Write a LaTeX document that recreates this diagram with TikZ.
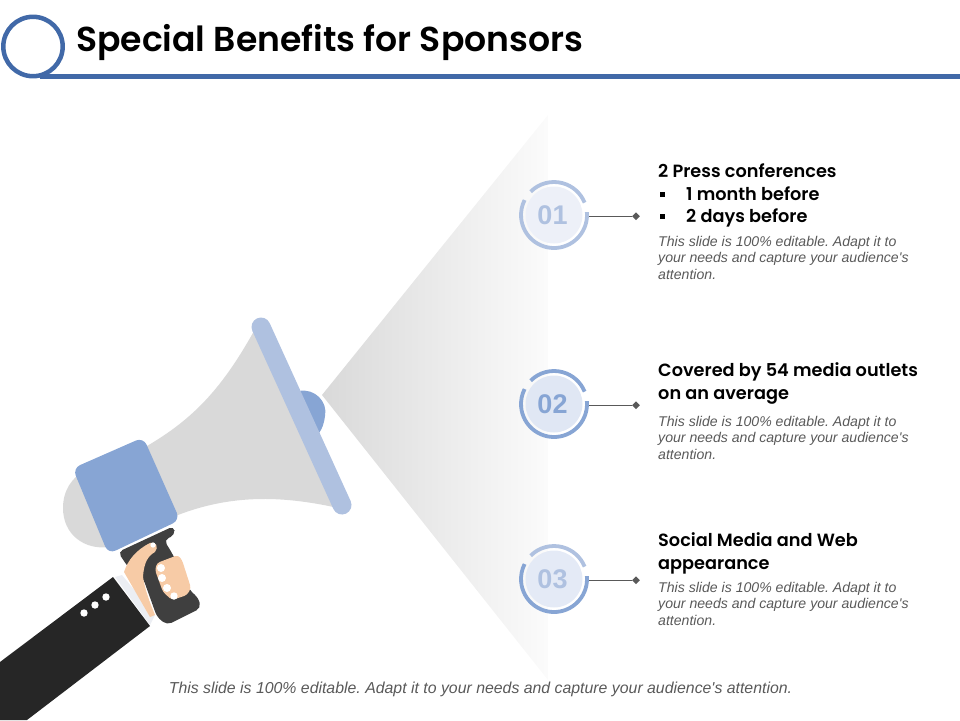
\documentclass[tikz,border=0pt]{standalone}
\usepackage{fontspec}
\setmainfont{Liberation Sans}[Ligatures=TeXOff]
\newfontfamily\headfont{Poppins}[UprightFont=* SemiBold,BoldFont=* SemiBold]
\definecolor{barblue}{HTML}{4169A8}
\definecolor{hornblue}{HTML}{87A5D4}
\definecolor{rimblue}{HTML}{AFC1E0}
\definecolor{fillone}{HTML}{EDF0F8}
\definecolor{filltwo}{HTML}{E0E7F4}
\definecolor{fillthree}{HTML}{E4EAF6}
\definecolor{horngray}{HTML}{D9D9D9}
\definecolor{conemid}{HTML}{EDEDED}
\definecolor{skin}{HTML}{F7CBA6}
\definecolor{gripdark}{HTML}{3F3F3F}
\definecolor{sleeve}{HTML}{262626}
\definecolor{cuff}{HTML}{ECEEF3}
\definecolor{notetext}{HTML}{595959}
\usetikzlibrary{shapes.geometric}
\tikzset{
  x=1pt,y=-1pt,
  titletext/.style={anchor=base west,inner sep=0pt,font=\headfont\fontsize{34.6}{34.6}\selectfont,text=black},
  headtext/.style={anchor=base west,inner sep=0pt,font=\headfont\fontsize{17.7}{17.7}\selectfont,text=black},
  notetxt/.style={anchor=north west,inner sep=0pt,align=left,text=notetext,font=\frenchspacing\itshape\fontsize{14.1}{16.5}\selectfont},
  numtext/.style={anchor=center,inner sep=0pt,font=\bfseries\fontsize{27}{27}\selectfont},
  leader/.style={draw=notetext,line width=1pt},
  tipdot/.style={diamond,fill=notetext,minimum size=8pt,inner sep=0pt},
}
\newcommand{\notebody}{This slide is 100\% editable. Adapt it to\\your needs and capture your audience's\\attention.}
\begin{document}
\begin{tikzpicture}
\useasboundingbox (0,0) rectangle (960,720);
% header
\fill[barblue] (40,74) rectangle (960,78.7);
\draw[barblue,line width=4.5pt,fill=white] (33,46.5) circle (29.7);
\node[titletext] (title) at (76,51) {Special Benefits for Sponsors};
% light cone
\begin{scope}
\clip (322,395) -- (548,115) -- (548,680) -- cycle;
\shade[left color=horngray,middle color=conemid,right color=black!1.5] (322,100) rectangle (548,690);
\end{scope}
% megaphone
\fill[horngray] (254,331) .. controls (220,392) and (190,422) .. (140,450) -- (85,470)
  .. controls (72,478) and (63,490) .. (63,508) .. controls (63,535) and (85,550) .. (108,547) -- (178,515)
  .. controls (230,495) and (280,495) .. (338,508) -- cycle;
\fill[hornblue] (299,391) .. controls (315,388) and (328,402) .. (325,416) .. controls (324,424) and (322,429) .. (319,433) -- cycle;
\draw[rimblue,line width=19pt,line cap=round] (261,327) -- (342,505);
\fill[gripdark,rounded corners=5pt] (118,552) -- (174,526) -- (175,535) -- (164,540) -- (172,553) -- (191,592) -- (198,597) -- (201,608) -- (167,625) -- (157,617) -- (143,578) -- (128,567) -- cycle;
\fill[hornblue,rounded corners=8pt] (72.7,468.3) -- (143.3,437.3) -- (180,520) -- (108.3,554) -- cycle;
\fill[cuff] (115,577) -- (122,575) -- (155,615) -- (150,625) -- cycle;
\fill[skin] (124,572) .. controls (128,560) and (136,550) .. (150,543) .. controls (156,541) and (159,547) .. (155,552) .. controls (148,556) and (144,562) .. (143,577) .. controls (145,590) and (150,603) .. (155,615) -- (150,617) -- cycle;
\fill[skin,rounded corners=3pt] (157,563) -- (178,555) -- (182,560) -- (191,588) -- (187,595) -- (172,600) -- (163,592) -- (155,570) -- cycle;
\fill[white] (153,545) circle (2.6);
\fill[white] (161,568) circle (4) (162,578) circle (4) (167,588) circle (4) (174,596) circle (3.7);
\fill[sleeve] (113,577) -- (150,626) -- (27,720) -- (0,720) -- (0,662) -- cycle;
\fill[white] (84,613) circle (3.7) (95,605) circle (3.7) (106,597) circle (3.7);
% items
\foreach \cy/\cola/\colb/\fl/\num/\nm in {
   215/rimblue/rimblue/fillone/01/a,
   404/hornblue/hornblue/filltwo/02/b,
   579/rimblue/hornblue/fillthree/03/c}{
  \fill[\fl] (554,\cy) circle (28.5);
  \draw[\colb,line width=3.8pt] (554,\cy) ++(-5:33) arc[start angle=-5,end angle=207,radius=33];
  \draw[\cola,line width=3.8pt] (554,\cy) ++(-135:33) arc[start angle=-135,end angle=-22,radius=33];
  \node[numtext,text=\cola] (n\nm) at (552.5,\cy) {\num};
  \node[tipdot] (t\nm) at (636,\cy+1.3) {};
  \coordinate (s\nm) at (589,\cy+1.3);
  \draw[leader] (s\nm) -- (t\nm);
}
% text 1
\node[headtext] (h1) at (658,177.5) {2 Press conferences};
\node[headtext] (h1a) at (686,200.5) {1 month before};
\node[headtext] (h1b) at (686,222.5) {2 days before};
\fill[black] (660,191.5) rectangle (665,196.5);
\fill[black] (660,213.5) rectangle (665,218.5);
\node[notetxt] (n1) at (658,236) {\notebody};
% text 2
\node[headtext] (h2) at (658,376.5) {Covered by 54 media outlets};
\node[headtext] (h2b) at (658,399.5) {on an average};
\node[notetxt] (n2) at (658,416) {\notebody};
% text 3
\node[headtext] (h3) at (658,546.5) {Social Media and Web};
\node[headtext] (h3b) at (658,569.5) {appearance};
\node[notetxt] (n3) at (658,582) {\notebody};
% footer
\node[anchor=base,inner sep=0pt,text=notetext,font=\frenchspacing\itshape\fontsize{15.85}{16}\selectfont] (foot) at (480.5,693) {This slide is 100\% editable. Adapt it to your needs and capture your audience's attention.};
\end{tikzpicture}
\end{document}
